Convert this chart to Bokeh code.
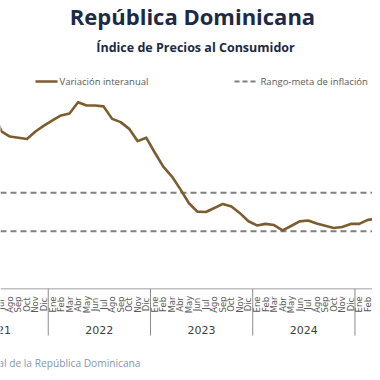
import math
from bokeh.plotting import figure
from bokeh.models import Range1d, Span
from bokeh.core.properties import value
from bokeh.embed import file_html
from bokeh.resources import INLINE

# ---------------- data ----------------
years = ["2021", "2022", "2023", "2024", "2025"]
month_names = ["Ene", "Feb", "Mar", "Abr", "May", "Jun",
               "Jul", "Ago", "Sep", "Oct", "Nov", "Dic"]

months_2021 = ["Jun", "Jul", "Ago", "Sep", "Oct", "Nov", "Dic"]
inflacion_2021 = [9.30, 8.20, 7.93, 7.87, 7.80, 8.19, 8.50]
months_2022 = month_names
inflacion_2022 = [8.77, 9.03, 9.13, 9.72, 9.55, 9.55, 9.50, 8.85, 8.68, 8.33, 7.69, 7.87]
months_2023 = month_names
inflacion_2023 = [7.10, 6.36, 5.86, 5.19, 4.47, 4.02, 4.00, 4.21, 4.42, 4.29, 3.94, 3.52]
months_2024 = month_names
inflacion_2024 = [3.30, 3.38, 3.32, 3.04, 3.27, 3.51, 3.56, 3.40, 3.28, 3.17, 3.22, 3.38]
months_2025 = ["Ene", "Feb", "Mar", "Abr"]
inflacion_2025 = [3.38, 3.59, 3.64, 3.70]

meta_rango = [3.0, 5.0]

titulo = "República Dominicana"
subtitulo = "Índice de Precios al Consumidor"
leyenda_linea = "Variación interanual"
leyenda_meta = "Rango-meta de inflación"
fuente = "Fuente: Banco Central de la República Dominicana"

# ---------------- build series ----------------
series = [
    ("2021", months_2021, inflacion_2021),
    ("2022", months_2022, inflacion_2022),
    ("2023", months_2023, inflacion_2023),
    ("2024", months_2024, inflacion_2024),
    ("2025", months_2025, inflacion_2025),
]
xs, ys, labels = [], [], []
for yr, ms, vals in series:
    for m, v in zip(ms, vals):
        xs.append((int(yr) - 2022) * 12 + month_names.index(m))
        ys.append(v)
        labels.append(m)

# ---------------- layout helpers (canvas pixels -> data) ----------------
W = H = 372
X0_PX, DX_PX = 52.0, 8.52
Y0_PX, DY_PX = 288.3, 19.2


def px_x(px):
    return (px - X0_PX) / DX_PX


def px_y(py):
    return (Y0_PX - py) / DY_PX


x_lo, x_hi = px_x(0), px_x(W)

p = figure(width=W, height=H,
           x_range=Range1d(x_lo, x_hi),
           y_range=Range1d(px_y(H), px_y(0)),
           x_axis_type=None, y_axis_type=None,
           output_backend="svg", toolbar_location=None,
           min_border=0)
p.grid.visible = False
p.outline_line_color = None
p.background_fill_color = "white"
p.border_fill_color = "white"

NAVY = "#1c2a47"
GREY_TXT = "#595959"
LINE_C = "#7b5d30"
DASH_C = "#7f7f7f"
FONT = value("Open Sans")

# target range lines
for m in meta_rango:
    p.add_layout(Span(location=m, dimension="width", line_color=DASH_C,
                      line_width=2, line_dash="6 4", level="underlay"))
# x axis line
p.add_layout(Span(location=0, dimension="width", line_color="#c0c0c0",
                  line_width=1.5, level="underlay"))

# year separators
sep_x = [(int(y) - 2022) * 12 - 0.5 for y in years[1:]]
p.segment(x0=sep_x, x1=sep_x, y0=[0] * len(sep_x), y1=[px_y(335)] * len(sep_x),
          line_color="#8c8c8c", line_width=1)

# month labels (only those that fall within the view)
lx = [x for x in xs if x_lo - 0.3 <= x <= x_hi - 0.4]
ll = [l for x, l in zip(xs, labels) if x_lo - 0.3 <= x <= x_hi - 0.4]
p.text(x=lx, y=[px_y(304)] * len(lx), text=ll, angle=math.pi / 2,
       text_align="center", text_baseline="middle",
       text_font=value("DejaVu Sans"), text_font_size="8.5px", text_color=GREY_TXT)

# year labels
yr_x = [(int(y) - 2022) * 12 + 5.5 for y in years]
yl = [(x, y) for x, y in zip(yr_x, years) if x - 2.5 < x_hi]
p.text(x=[a for a, _ in yl], y=[px_y(329)] * len(yl), text=[b for _, b in yl],
       text_align="center", text_baseline="middle",
       text_font=value("DejaVu Sans"), text_font_size="11px", text_color="#404040")

# main series
p.line(xs, ys, line_color=LINE_C, line_width=2.6, line_join="round", line_cap="round")

# title & subtitle
p.text(x=[px_x(192)], y=[px_y(15)], text=[titulo], text_align="center",
       text_baseline="alphabetic", text_font=FONT, text_font_style="bold",
       text_font_size="22px", text_color=NAVY)
p.text(x=[px_x(195)], y=[px_y(46.5)], text=[subtitulo], text_align="center",
       text_baseline="alphabetic", text_font=FONT, text_font_style="bold",
       text_font_size="12.5px", text_color=NAVY)

# legend (manual)
ly = px_y(81)
p.line([px_x(35), px_x(57)], [ly, ly], line_color=LINE_C, line_width=2.6)
p.text(x=[px_x(59)], y=[ly], text=[leyenda_linea], text_align="left",
       text_baseline="middle", text_font=FONT, text_font_size="9.5px", text_color=GREY_TXT)
p.line([px_x(234), px_x(257)], [ly, ly], line_color=DASH_C, line_width=2, line_dash="5 3")
p.text(x=[px_x(260)], y=[ly], text=[leyenda_meta], text_align="left",
       text_baseline="middle", text_font=FONT, text_font_size="9.5px", text_color=GREY_TXT)

# source
p.text(x=[px_x(140)], y=[px_y(362.5)], text=[fuente], text_align="right",
       text_baseline="middle", text_font=FONT, text_font_size="10.2px", text_color="#8497b0")

open("out.html", "w").write(file_html(p, INLINE))
